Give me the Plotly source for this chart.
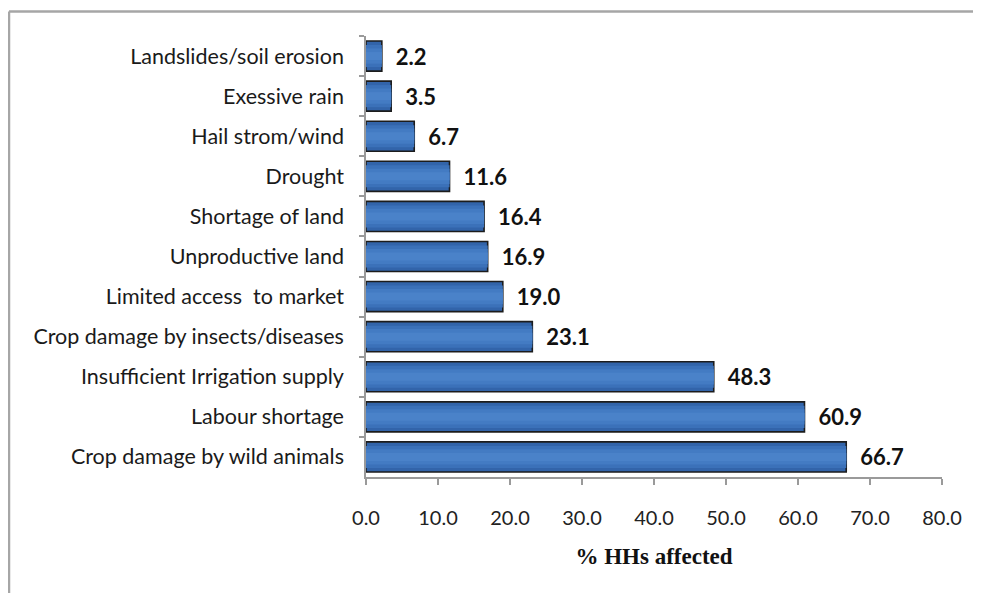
import plotly.graph_objects as go

categories = [
    "Landslides/soil erosion",
    "Exessive rain",
    "Hail strom/wind",
    "Drought",
    "Shortage of land",
    "Unproductive land",
    "Limited access  to market",
    "Crop damage by insects/diseases",
    "Insufficient Irrigation supply",
    "Labour shortage",
    "Crop damage by wild animals",
]
values = [2.2, 3.5, 6.7, 11.6, 16.4, 16.9, 19.0, 23.1, 48.3, 60.9, 66.7]
x_ticks = [0, 10, 20, 30, 40, 50, 60, 70, 80]
x_title = "% HHs affected"

# page body has an 8px margin; compensate so screen positions match
OFF = 8
W, H = 981 - OFF, 593 - OFF
L, R, T, B = 366 - OFF, 39, 36 - OFF, 116
pw, ph = W - L - R, H - T - B

fig = go.Figure()
fig.add_trace(go.Bar(
    x=values,
    y=categories,
    orientation="h",
    width=0.75,
    marker=dict(color="#3264aa", line=dict(color="#1c1c1c", width=1.6)),
    text=["\u2002" + f"{v:.1f}" for v in values],
    textposition="outside",
    cliponaxis=False,
    textfont=dict(family="Lato", size=22, color="#111111", weight="bold"),
    hoverinfo="skip",
))
# lighter inner bands to mimic the reference's gradient fill
for w, c in [(0.55, "#3b71b9"), (0.38, "#437bc3"), (0.2, "#4a82c9")]:
    fig.add_trace(go.Bar(
        x=values, y=categories, orientation="h", width=w,
        marker=dict(color=c, line=dict(width=0)),
        hoverinfo="skip",
    ))

def px_x(p):  # screen px -> paper
    return (p - OFF - L) / pw

def px_y(p):
    return (H - B - (p - OFF)) / ph

frame = dict(color="#a6a6a6", width=2.5)
fig.add_shape(type="line", xref="paper", yref="paper",
              x0=px_x(9), x1=px_x(990), y0=px_y(11.5), y1=px_y(11.5), line=frame)
fig.add_shape(type="line", xref="paper", yref="paper",
              x0=px_x(9), x1=px_x(9), y0=px_y(11.5), y1=px_y(600), line=frame)

fig.update_layout(
    width=W, height=H,
    margin=dict(l=L, r=R, t=T, b=B),
    paper_bgcolor="white", plot_bgcolor="white",
    showlegend=False,
    barmode="overlay",
    font=dict(family="Lato", color="#1a1a1a"),
    xaxis=dict(
        range=[0, 80],
        tickvals=x_ticks,
        tickformat=".1f",
        showgrid=False,
        zeroline=False,
        showline=True, linecolor="#9a9a9a", linewidth=1.5,
        ticks="outside", ticklen=6, tickcolor="#9a9a9a", tickwidth=1.5,
        tickfont=dict(family="Lato", size=20, color="#222222"),
        ticklabelstandoff=16,
        title=dict(text="<b>" + x_title + "</b>",
                   font=dict(family="Liberation Serif", size=23, color="#111111"),
                   standoff=20),
    ),
    yaxis=dict(
        autorange="reversed",
        showgrid=False,
        zeroline=False,
        showline=True, linecolor="#9a9a9a", linewidth=1.5,
        ticks="outside", ticklen=5, tickcolor="#9a9a9a", tickwidth=1.5,
        tickson="boundaries",
        tickfont=dict(family="Lato", size=21.5, color="#1a1a1a"),
        ticklabelstandoff=16,
    ),
)

fig.write_html("out.html")
